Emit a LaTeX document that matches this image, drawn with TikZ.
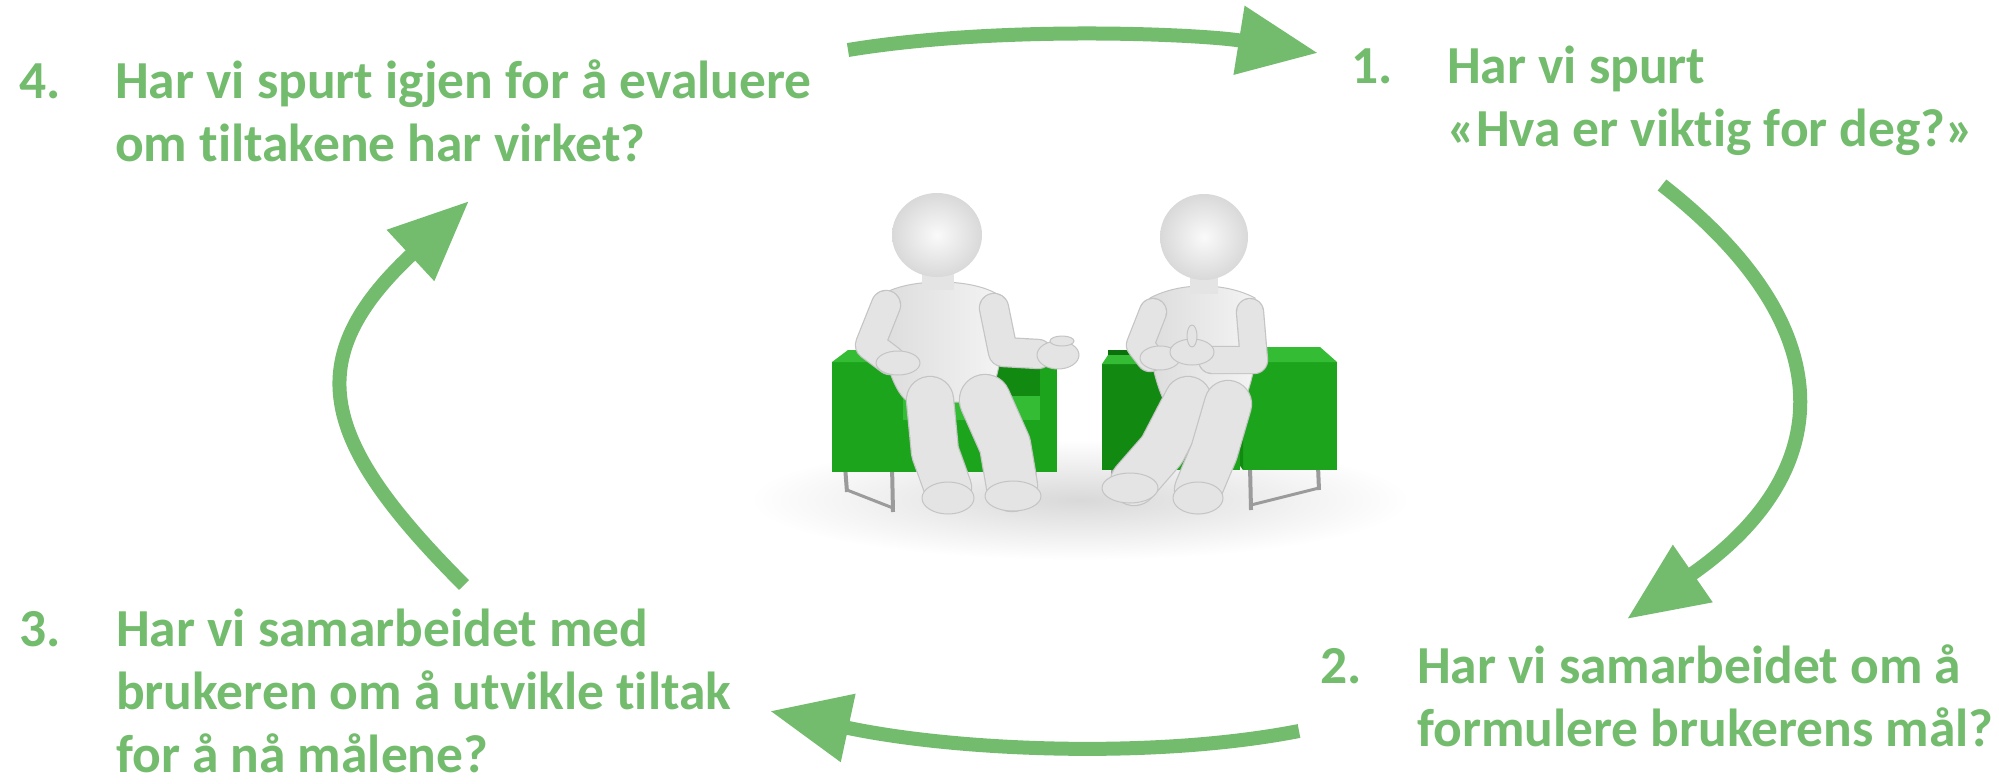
\documentclass[tikz,border=0pt]{standalone}
\usepackage{fontspec}
\setmainfont{Carlito}[RawFeature={-liga;-clig}]
\usetikzlibrary{arrows.meta}
\definecolor{cg}{RGB}{115,188,110}
\definecolor{chairmid}{RGB}{18,138,18}
\definecolor{chairlight}{RGB}{28,165,28}
\definecolor{chairdark}{RGB}{12,112,12}
\definecolor{chairtop}{RGB}{52,188,52}
\definecolor{skin}{RGB}{228,228,228}
\definecolor{skindark}{RGB}{196,196,196}
\definecolor{metal}{RGB}{155,155,155}
\tikzset{
  cyc/.style={draw=cg, line width=14pt, -{Triangle[length=80pt,width=66pt]}},
  numlbl/.style={text=cg, font=\fontsize{53.5}{63}\selectfont\bfseries, inner sep=0pt, anchor=base west},
  txtlbl/.style={text=cg, font=\fontsize{53.5}{63}\selectfont\bfseries, inner sep=0pt, anchor=north west, align=left},
  limb/.style={draw=skindark, line width=1.2pt, double=skin, double distance=#1, line cap=round, line join=round},
  torsoshade/.style={left color=gray!28, right color=gray!8, draw=skindark, line width=1pt},
  headshade/.style={inner color=gray!4, outer color=gray!30},
  handfill/.style={fill=skin, draw=skindark, line width=1pt},
}
\begin{document}
\begin{tikzpicture}[x=1pt,y=-1pt]
\useasboundingbox (0,0) rectangle (1999,784);
\fill[white] (0,0) rectangle (1999,784);

% ---------- central illustration ----------
\shade[inner color=gray!30, outer color=white] (1080,500) ellipse [x radius=330pt, y radius=60pt];

% left chair
\draw[metal, line width=4pt] (845,466) -- (847,492);
\draw[metal, line width=4pt] (892,466) -- (893,512);
\draw[metal, line width=3pt] (847,490) -- (893,508);
\draw[metal, line width=4pt] (1034,466) -- (1035,488);
\fill[chairmid] (857,350) rectangle (1057,430);
\fill[chairlight] (832,362) rectangle (903,472);
\fill[chairtop] (832,362) -- (848,350) -- (910,350) -- (903,362) -- cycle;
\fill[chairmid] (985,360) rectangle (1040,470);
\fill[chairlight] (1040,362) rectangle (1057,472);
\fill[chairtop] (985,360) -- (990,352) -- (1057,352) -- (1057,362) -- (1040,362) -- cycle;
\fill[chairtop] (903,396) rectangle (1040,420);
\fill[chairlight] (903,420) rectangle (1040,472);

% right chair
\draw[metal, line width=4pt] (1113,466) -- (1114,498);
\draw[metal, line width=4pt] (1250,466) -- (1251,510);
\draw[metal, line width=4pt] (1318,466) -- (1319,490);
\draw[metal, line width=3pt] (1251,505) -- (1319,488);
\fill[chairdark] (1108,350) rectangle (1320,430);
\fill[chairmid] (1102,364) rectangle (1163,470);
\fill[chairtop] (1102,364) -- (1108,355) -- (1168,355) -- (1163,364) -- cycle;
\fill[chairlight] (1243,362) rectangle (1337,470);
\fill[chairtop] (1243,362) -- (1250,347) -- (1320,347) -- (1337,362) -- cycle;
\fill[chairmid] (1236,370) -- (1243,362) -- (1243,470) -- (1236,460) -- cycle;
\fill[chairtop] (1163,400) rectangle (1236,420);
\fill[chairlight] (1163,420) rectangle (1240,470);

% left figure
\path[torsoshade] (883,294) .. controls (875,350) and (897,400) .. (910,402) -- (986,402) .. controls (1000,380) and (1008,330) .. (997,294) .. controls (970,278) and (910,278) .. (883,294) -- cycle;
\fill[skin] (922,266) rectangle (954,290);
\shade[headshade] (937,235) ellipse [x radius=45pt, y radius=42pt];
\draw[limb=46pt] (930,400) -- (935,452) -- (948,488);
\draw[limb=50pt] (985,400) -- (1005,445) -- (1012,486);
\path[handfill] (948,498) ellipse [x radius=26pt, y radius=16pt];
\path[handfill] (1013,496) ellipse [x radius=28pt, y radius=15pt];
\draw[limb=28pt] (886,305) -- (870,345) -- (890,360);
\path[handfill] (898,363) ellipse [x radius=22pt, y radius=12pt];
\draw[limb=28pt] (994,308) -- (1003,352) -- (1038,354);
\path[handfill] (1058,355) ellipse [x radius=21pt, y radius=14pt];
\path[handfill] (1062,341) ellipse [x radius=12pt, y radius=5pt];

% right figure
\path[torsoshade] (1150,298) .. controls (1143,350) and (1160,400) .. (1170,410) -- (1240,410) .. controls (1256,380) and (1262,330) .. (1255,298) .. controls (1225,282) and (1180,282) .. (1150,298) -- cycle;
\fill[skin] (1190,268) rectangle (1218,294);
\shade[headshade] (1204,237) ellipse [x radius=44pt, y radius=43pt];
\draw[limb=46pt] (1188,400) -- (1162,450) -- (1134,482);
\draw[limb=46pt] (1228,404) -- (1214,452) -- (1198,490);
\path[handfill] (1130,488) ellipse [x radius=28pt, y radius=15pt];
\path[handfill] (1198,498) ellipse [x radius=25pt, y radius=16pt];
\draw[limb=26pt] (1153,312) -- (1140,345) -- (1150,358);
\path[handfill] (1160,358) ellipse [x radius=20pt, y radius=12pt];
\draw[limb=26pt] (1250,312) -- (1254,360) -- (1212,360);
\path[handfill] (1192,352) ellipse [x radius=22pt, y radius=13pt];
\path[handfill] (1192,336) ellipse [x radius=5pt, y radius=11pt];

% ---------- texts ----------
\node[numlbl] (n4) at (19,98) {4.};
\node[txtlbl] (t4) at (115,53) {\rule{0pt}{45pt}Har vi spurt igjen for å evaluere\\om tiltakene har virket?};
\node[numlbl] (n1) at (1351,83) {1.};
\node[txtlbl] (t1) at (1447,38) {\rule{0pt}{45pt}Har vi spurt\\«Hva er viktig for deg?»};
\node[numlbl] (n3) at (19,646) {3.};
\node[txtlbl] (t3) at (116,601) {\rule{0pt}{45pt}Har vi samarbeidet med\\brukeren om å utvikle tiltak\\for å nå målene?};
\node[numlbl] (n2) at (1320,683) {2.};
\node[txtlbl] (t2) at (1417,638) {\rule{0pt}{45pt}Har vi samarbeidet om å\\formulere brukerens mål?};

% ---------- cycle arrows ----------
\coordinate (a4s) at (848,50);
\coordinate (a1e) at (1318,53);
\coordinate (a1s) at (1662,185);
\coordinate (a2e) at (1627,619);
\coordinate (a2s) at (1299,731);
\coordinate (a3e) at (770,711);
\coordinate (a3s) at (464,585);
\coordinate (a4e) at (469,201);
\draw[cyc] (a4s) .. controls (1000,25) and (1200,34) .. (a1e);
\draw[cyc] (a1s) .. controls (1845,328) and (1838,473) .. (a2e);
\draw[cyc] (a2s) .. controls (1150,760) and (950,750) .. (a3e);
\draw[cyc] (a3s) .. controls (320,441) and (298,360) .. (a4e);
\end{tikzpicture}
\end{document}
